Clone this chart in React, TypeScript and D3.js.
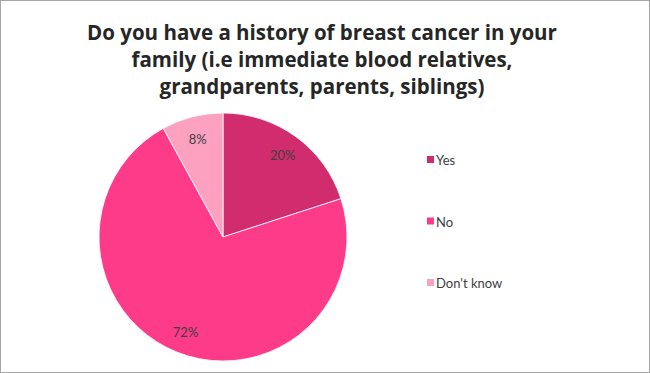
import React from "react";
import * as d3 from "d3";

const categories = ["Yes", "No", "Don't know"];
const values = [20, 72, 8];
const colors = ["#d02c6e", "#fd3b89", "#fca1bf"];
const titleLines = [
  "Do you have a history of breast cancer in your",
  "family (i.e immediate blood relatives,",
  "grandparents, parents, siblings)",
];

const W = 650;
const H = 373;

export default function App() {
  const cx = 223;
  const cy = 237;
  const r = 124;
  const pie = d3.pie<number>().sort(null).value((d) => d);
  const arcs = pie(values);
  const arc = d3.arc<d3.PieArcDatum<number>>().innerRadius(0).outerRadius(r);
  const labelArc = d3
    .arc<d3.PieArcDatum<number>>()
    .innerRadius(r * 0.82)
    .outerRadius(r * 0.82);
  const total = d3.sum(values);
  const legendY = d3.scalePoint<string>().domain(categories).range([160, 283]);
  const font = "Lato, 'Open Sans', sans-serif";
  const titleFont = "'Open Sans', Lato, sans-serif";

  return (
    <svg
      width={W}
      height={H}
      style={{ position: "absolute", left: 0, top: 0, background: "#fff" }}
    >
      <rect x={0.5} y={0.5} width={W - 1} height={H - 1} fill="#fff" stroke="#a6a6a6" />
      {titleLines.map((t, i) => (
        <text
          key={i}
          x={322}
          y={40 + i * 27}
          textAnchor="middle"
          fontFamily={titleFont}
          fontWeight="bold"
          fontSize={20.5}
          fill="#262626"
        >
          {t}
        </text>
      ))}
      <g transform={`translate(${cx},${cy})`}>
        {arcs.map((a, i) => (
          <path key={i} d={arc(a) || ""} fill={colors[i]} stroke="#fff" strokeWidth={0.8} />
        ))}
        {arcs.map((a, i) => {
          const [x, y] = labelArc.centroid(a);
          return (
            <text
              key={"l" + i}
              x={x}
              y={y}
              textAnchor="middle"
              dominantBaseline="central"
              fontFamily={font}
              fontSize={13}
              fill="#404040"
            >
              {Math.round((values[i] / total) * 100)}%
            </text>
          );
        })}
      </g>
      {categories.map((c, i) => (
        <g key={c} transform={`translate(427,${legendY(c)})`}>
          <rect x={0} y={-4} width={7} height={7} fill={colors[i]} />
          <text x={9} y={0} dominantBaseline="central" fontFamily={font} fontSize={13} fill="#404040">
            {c}
          </text>
        </g>
      ))}
    </svg>
  );
}
